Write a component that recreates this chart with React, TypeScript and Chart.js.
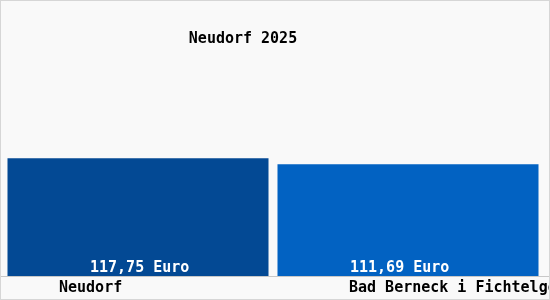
import React, { useEffect, useRef } from "react";
import { Chart, registerables } from "chart.js";

Chart.register(...registerables);

const TITLE = "Neudorf 2025";
const categories = ["Neudorf", "Bad Berneck i Fichtelgebirge"];
const values = [117.75, 111.69];
const valueLabels = ["117,75 Euro", "111,69 Euro"];
const barColors = ["#034994", "#0262c2"];

const FONT = "'DejaVu Sans Mono', monospace";

const decorPlugin = {
  id: "decor",
  beforeDraw(chart: any) {
    const { ctx, width, height } = chart;
    ctx.save();
    ctx.fillStyle = "#f9f9f9";
    ctx.fillRect(0, 0, width, height);
    ctx.restore();
  },
  afterDatasetsDraw(chart: any) {
    const { ctx, width, height, chartArea } = chart;
    const meta = chart.getDatasetMeta(0);
    ctx.save();
    // baseline
    ctx.strokeStyle = "#c8c8c8";
    ctx.lineWidth = 1;
    ctx.beginPath();
    ctx.moveTo(0, Math.round(chartArea.bottom) + 0.5);
    ctx.lineTo(width, Math.round(chartArea.bottom) + 0.5);
    ctx.stroke();

    // title
    ctx.font = `bold 15px ${FONT}`;
    ctx.fillStyle = "#000";
    ctx.textAlign = "center";
    ctx.textBaseline = "middle";
    ctx.fillText(TITLE, 243, 39);

    const valueOffsets = [-48, -58];
    const catOffsets = [-79, -59];
    meta.data.forEach((bar: any, i: number) => {
      ctx.textAlign = "left";
      ctx.textBaseline = "middle";
      ctx.font = `bold 15px ${FONT}`;
      ctx.fillStyle = "#ffffff";
      ctx.fillText(valueLabels[i], bar.x + valueOffsets[i], chartArea.bottom - 8);
      ctx.fillStyle = "#000000";
      ctx.fillText(categories[i], bar.x + catOffsets[i], chartArea.bottom + 12);
    });

    // border
    ctx.strokeStyle = "#d6d6d6";
    ctx.lineWidth = 1;
    ctx.strokeRect(0.5, 0.5, width - 1, height - 1);
    ctx.restore();
  },
};

export default function App() {
  const ref = useRef<HTMLCanvasElement | null>(null);
  useEffect(() => {
    if (!ref.current) return;
    const chart = new Chart(ref.current, {
      type: "bar",
      data: {
        labels: categories,
        datasets: [
          {
            data: values,
            backgroundColor: barColors,
            borderWidth: 0,
            barPercentage: 0.9667,
            categoryPercentage: 1,
          },
        ],
      },
      options: {
        responsive: false,
        animation: false,
        layout: { padding: { left: 3, right: 7, top: 76, bottom: 24 } },
        plugins: {
          legend: { display: false },
          title: { display: false },
          tooltip: { enabled: false },
        },
        scales: {
          x: { display: false },
          y: { display: false, min: 0, max: 200 },
        },
      },
      plugins: [decorPlugin],
    });
    return () => chart.destroy();
  }, []);
  return (
    <div style={{ position: "absolute", left: 0, top: 0, width: 550, height: 300 }}>
      <canvas ref={ref} width={550} height={300} style={{ width: 550, height: 300, display: "block" }} />
    </div>
  );
}
